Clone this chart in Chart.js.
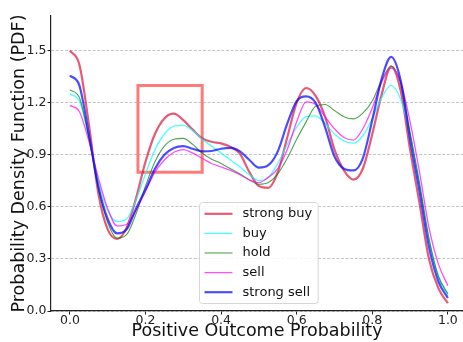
<!DOCTYPE html>
<html>
<head>
<meta charset="utf-8">
<script src="https://cdn.jsdelivr.net/npm/chart.js@4.4.1/dist/chart.umd.min.js"></script>
<style>
  html, body { margin: 0; padding: 0; background: #fff; overflow: hidden; }
  #wrap { width: 463px; height: 342px; position: relative; }
</style>
</head>
<body>
<div id="wrap"><canvas id="c"></canvas></div>
<script>
// Evaluation grid on the outcome-probability axis
const xs = [0, 0.025, 0.05, 0.075, 0.1, 0.125, 0.15, 0.175, 0.2, 0.225,
            0.25, 0.275, 0.3, 0.325, 0.35, 0.375, 0.4, 0.425, 0.45, 0.475,
            0.5, 0.525, 0.55, 0.575, 0.6, 0.625, 0.65, 0.675, 0.7, 0.725,
            0.75, 0.775, 0.8, 0.825, 0.85, 0.875, 0.9, 0.925, 0.95, 0.975, 1.0];

// Density estimates per recommendation class
const strongBuy = [1.50, 1.42, 1.08, 0.68, 0.47, 0.415, 0.48, 0.65, 0.86, 1.02,
                   1.11, 1.137, 1.10, 1.045, 0.995, 0.975, 0.966, 0.946, 0.905, 0.80,
                   0.72, 0.71, 0.80, 1.00, 1.20, 1.285, 1.24, 1.12, 0.93, 0.81,
                   0.757, 0.82, 1.02, 1.25, 1.41, 1.27, 0.93, 0.62, 0.30, 0.13, 0.045];
const buy       = [1.25, 1.21, 1.00, 0.75, 0.58, 0.515, 0.53, 0.64, 0.79, 0.93,
                   1.02, 1.065, 1.07, 1.04, 0.99, 0.95, 0.91, 0.87, 0.83, 0.785,
                   0.752, 0.77, 0.85, 0.96, 1.06, 1.12, 1.125, 1.08, 1.02, 0.98,
                   0.967, 1.01, 1.11, 1.23, 1.30, 1.22, 1.02, 0.72, 0.41, 0.20, 0.09];
const hold      = [1.275, 1.23, 1.00, 0.71, 0.51, 0.42, 0.44, 0.56, 0.72, 0.86,
                   0.95, 0.99, 0.995, 0.96, 0.91, 0.875, 0.85, 0.82, 0.79, 0.755,
                   0.73, 0.74, 0.79, 0.88, 0.99, 1.09, 1.18, 1.19, 1.155, 1.12,
                   1.107, 1.14, 1.21, 1.33, 1.41, 1.31, 1.03, 0.74, 0.42, 0.20, 0.10];
const sell      = [1.185, 1.15, 0.98, 0.77, 0.59, 0.49, 0.50, 0.58, 0.69, 0.80,
                   0.87, 0.915, 0.93, 0.91, 0.88, 0.85, 0.83, 0.81, 0.785, 0.755,
                   0.74, 0.77, 0.82, 0.93, 1.09, 1.205, 1.19, 1.12, 1.05, 1.00,
                   0.985, 1.05, 1.17, 1.32, 1.40, 1.32, 1.09, 0.80, 0.48, 0.27, 0.145];
const strongSell = [1.357, 1.30, 1.02, 0.72, 0.53, 0.447, 0.47, 0.59, 0.70, 0.82,
                    0.90, 0.94, 0.95, 0.935, 0.92, 0.922, 0.935, 0.94, 0.92, 0.87,
                    0.826, 0.84, 0.92, 1.08, 1.21, 1.237, 1.20, 1.06, 0.89, 0.82,
                    0.81, 0.88, 1.10, 1.34, 1.465, 1.33, 0.99, 0.69, 0.37, 0.17, 0.075];

const seriesNames = ['strong buy', 'buy', 'hold', 'sell', 'strong sell'];

// Axis ticks
const xTickValues = [0, 0.2, 0.4, 0.6, 0.8, 1.0];
const yTickValues = [0, 0.3, 0.6, 0.9, 1.2, 1.5];

// Highlighted region (x range, y range)
const boxX = [0.18, 0.35];
const boxY = [0.8, 1.3];

const FONT = "'DejaVu Sans', 'Liberation Sans', sans-serif";
Chart.defaults.font.family = FONT;
Chart.defaults.color = '#222';

const toPoints = (ys) => xs.map((x, i) => ({ x, y: ys[i] }));

const styles = [
  { color: 'rgba(220,20,60,0.7)', width: 2.2, order: 4 },
  { color: 'rgba(0,255,255,0.7)', width: 1.3, order: 3 },
  { color: 'rgba(0,128,0,0.7)',   width: 1.1, order: 2 },
  { color: 'rgba(255,0,255,0.7)', width: 1.3, order: 1 },
  { color: 'rgba(0,0,255,0.7)',   width: 2.2, order: 0 }
];
const seriesValues = [strongBuy, buy, hold, sell, strongSell];

const datasets = seriesValues.map((vals, i) => ({
  label: seriesNames[i],
  data: toPoints(vals),
  borderColor: styles[i].color,
  borderWidth: styles[i].width,
  order: styles[i].order,
  pointRadius: 0,
  fill: false,
  cubicInterpolationMode: 'monotone',
  inLegend: true
}));

// Rectangle outline around the first bump (corner sequence repeats the first edge so every corner is joined)
const corners = [[0, 0], [1, 0], [1, 1], [0, 1], [0, 0], [1, 0]];
datasets.push({
  label: 'region',
  data: corners.map(([i, j]) => ({ x: boxX[i], y: boxY[j] })),
  borderColor: '#ff7b7b',
  borderWidth: 3,
  borderJoinStyle: 'miter',
  order: 10,
  pointRadius: 0,
  tension: 0,
  fill: false,
  inLegend: false
});

const boxLegend = {
  id: 'boxLegend',
  afterDatasetsDraw(chart) {
    const { ctx, chartArea: ca } = chart;
    const items = chart.data.datasets.filter(d => d.inLegend);
    ctx.save();
    ctx.font = "13px " + FONT;
    const textW = Math.max(...items.map(d => ctx.measureText(d.label).width));
    const padL = 5, lineLen = 28, gap = 10, padR = 6, rowH = 19.6, padT = 1.5;
    const w = padL + lineLen + gap + textW + padR;
    const h = rowH * items.length + 3;
    const x0 = Math.round(ca.left + 0.359 * ca.width) + 0.5;
    const y0 = Math.round(ca.top + 0.6305 * ca.height) + 0.5;
    ctx.beginPath();
    ctx.roundRect(x0, y0, w, h, 3);
    ctx.fillStyle = 'rgba(255,255,255,0.85)';
    ctx.fill();
    ctx.strokeStyle = '#d6d6d6';
    ctx.lineWidth = 1;
    ctx.stroke();
    items.forEach((d, i) => {
      const cy = y0 + padT + rowH * (i + 0.5);
      ctx.beginPath();
      ctx.moveTo(x0 + padL, cy);
      ctx.lineTo(x0 + padL + lineLen, cy);
      ctx.strokeStyle = d.borderColor;
      ctx.lineWidth = d.borderWidth;
      ctx.stroke();
      ctx.fillStyle = '#111';
      ctx.textBaseline = 'middle';
      ctx.textAlign = 'left';
      ctx.fillText(d.label, x0 + padL + lineLen + gap, cy);
    });
    ctx.restore();
  }
};

new Chart(document.getElementById('c'), {
  type: 'line',
  data: { datasets },
  options: {
    responsive: true,
    maintainAspectRatio: false,
    animation: false,
    devicePixelRatio: 1,
    layout: { padding: { top: 16, left: 0, right: 0, bottom: 0 } },
    plugins: {
      legend: { display: false },
      tooltip: { enabled: false }
    },
    scales: {
      x: {
        type: 'linear',
        min: -0.05,
        max: 1.04,
        afterBuildTicks: (scale) => { scale.ticks = xTickValues.map(v => ({ value: v })); },
        afterFit: (scale) => { scale.height = 31; },
        ticks: {
          callback: (v) => Number(v).toFixed(1),
          font: { size: 12.5, lineHeight: 1 },
          color: '#222',
          padding: -0.5,
          maxRotation: 0,
          autoSkip: false
        },
        grid: {
          drawOnChartArea: false,
          drawTicks: true,
          tickLength: 3.5,
          tickColor: '#222',
          tickWidth: 1
        },
        border: { display: true, color: '#222', width: 1.2 },
        title: {
          display: true,
          text: 'Positive Outcome Probability',
          font: { size: 17.5 },
          color: '#111',
          padding: { top: 0, bottom: 0 }
        }
      },
      y: {
        type: 'linear',
        min: 0,
        max: 1.7,
        afterBuildTicks: (scale) => { scale.ticks = yTickValues.map(v => ({ value: v })); },
        afterFit: (scale) => { scale.width = 51; },
        ticks: {
          callback: (v) => Number(v).toFixed(1),
          font: { size: 12.5 },
          color: '#222',
          padding: 1
        },
        grid: {
          color: '#b5b5b5',
          lineWidth: 0.8,
          drawTicks: true,
          tickLength: 3.5,
          tickColor: '#222',
          tickWidth: 1,
          tickBorderDash: []
        },
        border: { display: true, color: '#222', width: 1.2, dash: [3, 1.6] },
        title: {
          display: true,
          text: 'Probability Density Function (PDF)',
          font: { size: 17.5 },
          color: '#111',
          padding: { top: 9, bottom: 0 }
        }
      }
    }
  },
  plugins: [boxLegend]
});
</script>
</body>
</html>
